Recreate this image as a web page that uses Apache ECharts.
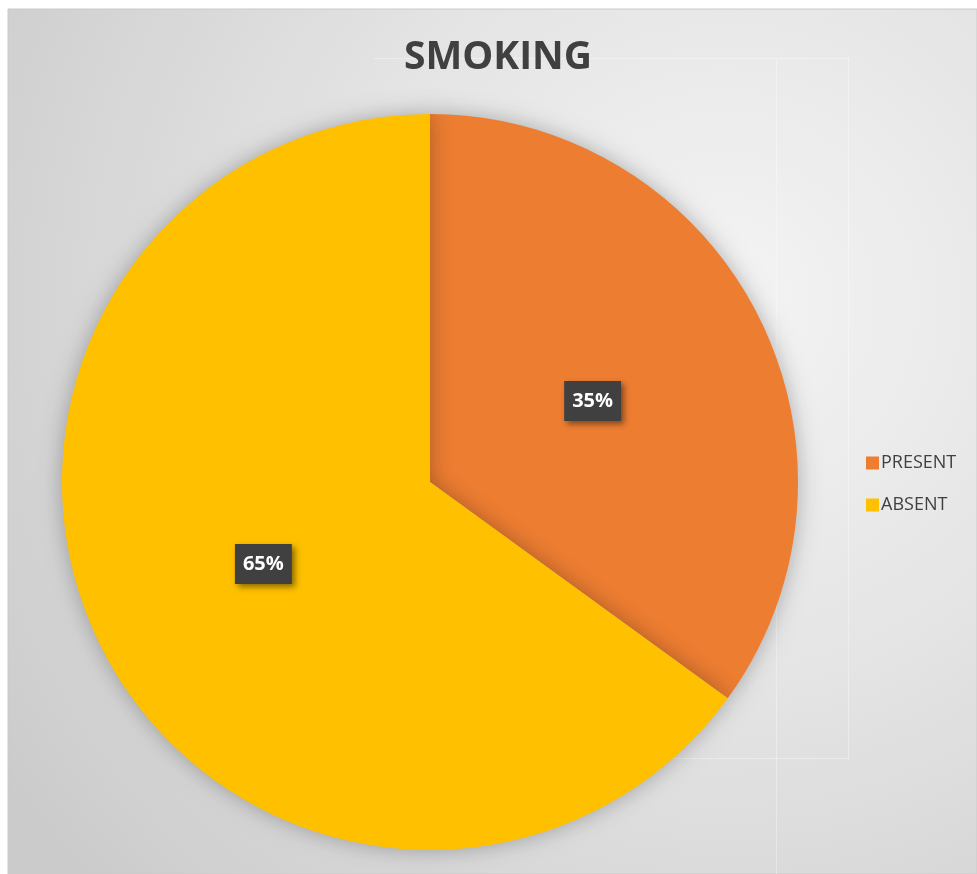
<!DOCTYPE html>
<html>
<head>
<meta charset="utf-8">
<script src="https://cdn.jsdelivr.net/npm/echarts@6/dist/echarts.min.js"></script>
<style>
  html, body { margin: 0; padding: 0; background: #ffffff; }
  #chart { width: 977px; height: 874px; }
</style>
</head>
<body>
<div id="chart"></div>
<script>
// Smoking status share
const categories = ['PRESENT', 'ABSENT'];
const shares = [35, 65];
const colors = ['#ED7D31', '#FFC000'];

const chart = echarts.init(document.getElementById('chart'));

// small nudges for the value boxes
const labelNudge = [[-4, 4], [0, -3]];

const pieData = categories.map((name, i) => ({
  name: name,
  value: shares[i],
  itemStyle: { color: colors[i] },
  label: { offset: labelNudge[i] }
}));

const faintLine = { stroke: 'rgba(255,255,255,0.35)', lineWidth: 1 };

chart.setOption({
  animation: false,
  backgroundColor: '#ffffff',
  graphic: [
    {
      type: 'rect', z: -10, silent: true,
      shape: { x: 8, y: 9, width: 969, height: 865 },
      style: {
        fill: {
          type: 'radial', x: 0.74, y: 0.34, r: 1.0,
          colorStops: [
            { offset: 0, color: '#f4f4f4' },
            { offset: 0.45, color: '#e4e4e4' },
            { offset: 1, color: '#cbcbcb' }
          ]
        },
        stroke: '#cacaca', lineWidth: 1
      }
    },
    { type: 'line', z: -5, silent: true, shape: { x1: 374, y1: 58.5, x2: 849, y2: 58.5 }, style: faintLine },
    { type: 'line', z: -5, silent: true, shape: { x1: 374, y1: 758.5, x2: 849, y2: 758.5 }, style: faintLine },
    { type: 'line', z: -5, silent: true, shape: { x1: 776.5, y1: 58, x2: 776.5, y2: 874 }, style: faintLine },
    { type: 'line', z: -5, silent: true, shape: { x1: 848.5, y1: 58, x2: 848.5, y2: 758 }, style: faintLine }
  ],
  title: {
    text: 'SMOKING',
    left: 493,
    textAlign: 'center',
    top: 33,
    textStyle: {
      fontFamily: 'Open Sans',
      fontWeight: 'bold',
      fontSize: 39,
      color: '#404040'
    }
  },
  legend: {
    orient: 'vertical',
    left: 861,
    top: 449,
    icon: 'rect',
    itemWidth: 13,
    itemHeight: 13,
    itemGap: 24,
    data: categories,
    textStyle: {
      fontFamily: 'Open Sans',
      fontSize: 18,
      color: '#404040',
      padding: [0, 0, 0, -3]
    }
  },
  series: [{
    type: 'pie',
    center: [430, 482],
    radius: 368,
    startAngle: 90,
    clockwise: true,
    data: pieData,
    itemStyle: {
      shadowBlur: 22,
      shadowColor: 'rgba(0,0,0,0.28)'
    },
    label: {
      show: true,
      position: 'inside',
      formatter: '{d}%',
      color: '#ffffff',
      fontFamily: 'Open Sans',
      fontWeight: 'bold',
      fontSize: 20,
      lineHeight: 22,
      backgroundColor: '#404040',
      padding: [9, 8, 9, 8],
      shadowColor: 'rgba(0,0,0,0.45)',
      shadowBlur: 6,
      shadowOffsetX: 3,
      shadowOffsetY: 3
    },
    labelLine: { show: false },
    emphasis: { disabled: true }
  }]
});
</script>
</body>
</html>
